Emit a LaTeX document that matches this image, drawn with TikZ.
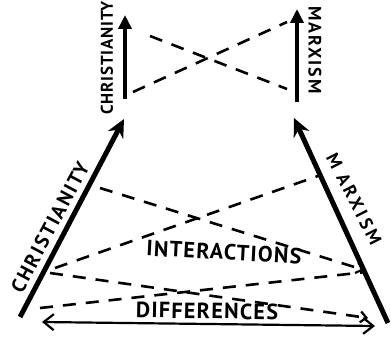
\documentclass[tikz,border=0pt]{standalone}
\usepackage{fontspec}
\setmainfont{PT Sans}
\newfontfamily\hand{PT Sans}
\usetikzlibrary{arrows.meta}
\begin{document}
\begin{tikzpicture}[x=1pt,y=-1pt,
  big/.style={line width=5pt,-{Stealth[length=18pt,width=17pt]}},
  small/.style={line width=4.2pt,-{Triangle[length=14pt,width=13pt]}},
  dsh/.style={line width=2.6pt,dash pattern=on 13pt off 10pt},
  dshtip/.style={dsh,-{Straight Barb[length=6pt,width=11pt,line width=2.2pt]}},
  diff/.style={line width=2.2pt,{Straight Barb[length=10pt,width=16pt,line width=2.2pt]}-{Straight Barb[length=10pt,width=16pt,line width=2.2pt]}},
  lab/.style 2 args={inner sep=0pt,font=\hand\bfseries\fontsize{#1}{#1}\selectfont\addfontfeature{LetterSpace=#2}}]
\useasboundingbox (0,0) rectangle (391,339);
% arrow ends
\coordinate (cb) at (20,317);
\coordinate (ct) at (124,119);
\coordinate (mb) at (388,323);
\coordinate (mt) at (294,118);
\coordinate (csb) at (125,99);
\coordinate (cst) at (125,15);
\coordinate (msb) at (297,102);
\coordinate (mst) at (297,9);
% dashed ends
\coordinate (t1a) at (150,36);  \coordinate (t1b) at (287,89);
\coordinate (t2a) at (133,92);  \coordinate (t2b) at (287,22);
\coordinate (aa) at (100,188);  \coordinate (ab) at (364,270);
\coordinate (ba) at (55,268);   \coordinate (bb) at (318,176);
\coordinate (ca) at (50,273);   \coordinate (cb2) at (368,318);
\coordinate (da) at (40,308);   \coordinate (db) at (366,272);
\coordinate (fa) at (42,322);   \coordinate (fb) at (375,326);
% arrows
\draw[big] (cb) -- (ct);
\draw[big] (mb) -- (mt);
\draw[small] (csb) -- (cst);
\draw[small] (msb) -- (mst);
% dashed links
\draw[dsh] (t1a) -- (t1b);
\draw[dsh] (t2a) -- (t2b);
\draw[dshtip] (aa) -- (ab);
\draw[dsh] (ba) -- (bb);
\draw[dshtip] (ca) -- (cb2);
\draw[dsh] (da) -- (db);
\draw[diff] (fa) -- (fb);
% labels
\node[lab={17}{5},rotate=90] (lc1) at (107,58) {CHRISTIANITY};
\node[lab={18}{11},rotate=-90] (lm1) at (315,50) {MARXISM};
\node[lab={20}{10},rotate=62] (lc2) at (50,227) {CHRISTIANITY};
\node[lab={18}{18},rotate=-63] (lm2) at (354,199) {M\hspace{8pt}ARXISM};
\node[lab={22}{6},rotate=-3] (li) at (224,252) {INTERACTIONS};
\node[lab={22}{6},rotate=-1] (ld) at (207,311) {DIFFERENCES};
\end{tikzpicture}
\end{document}
